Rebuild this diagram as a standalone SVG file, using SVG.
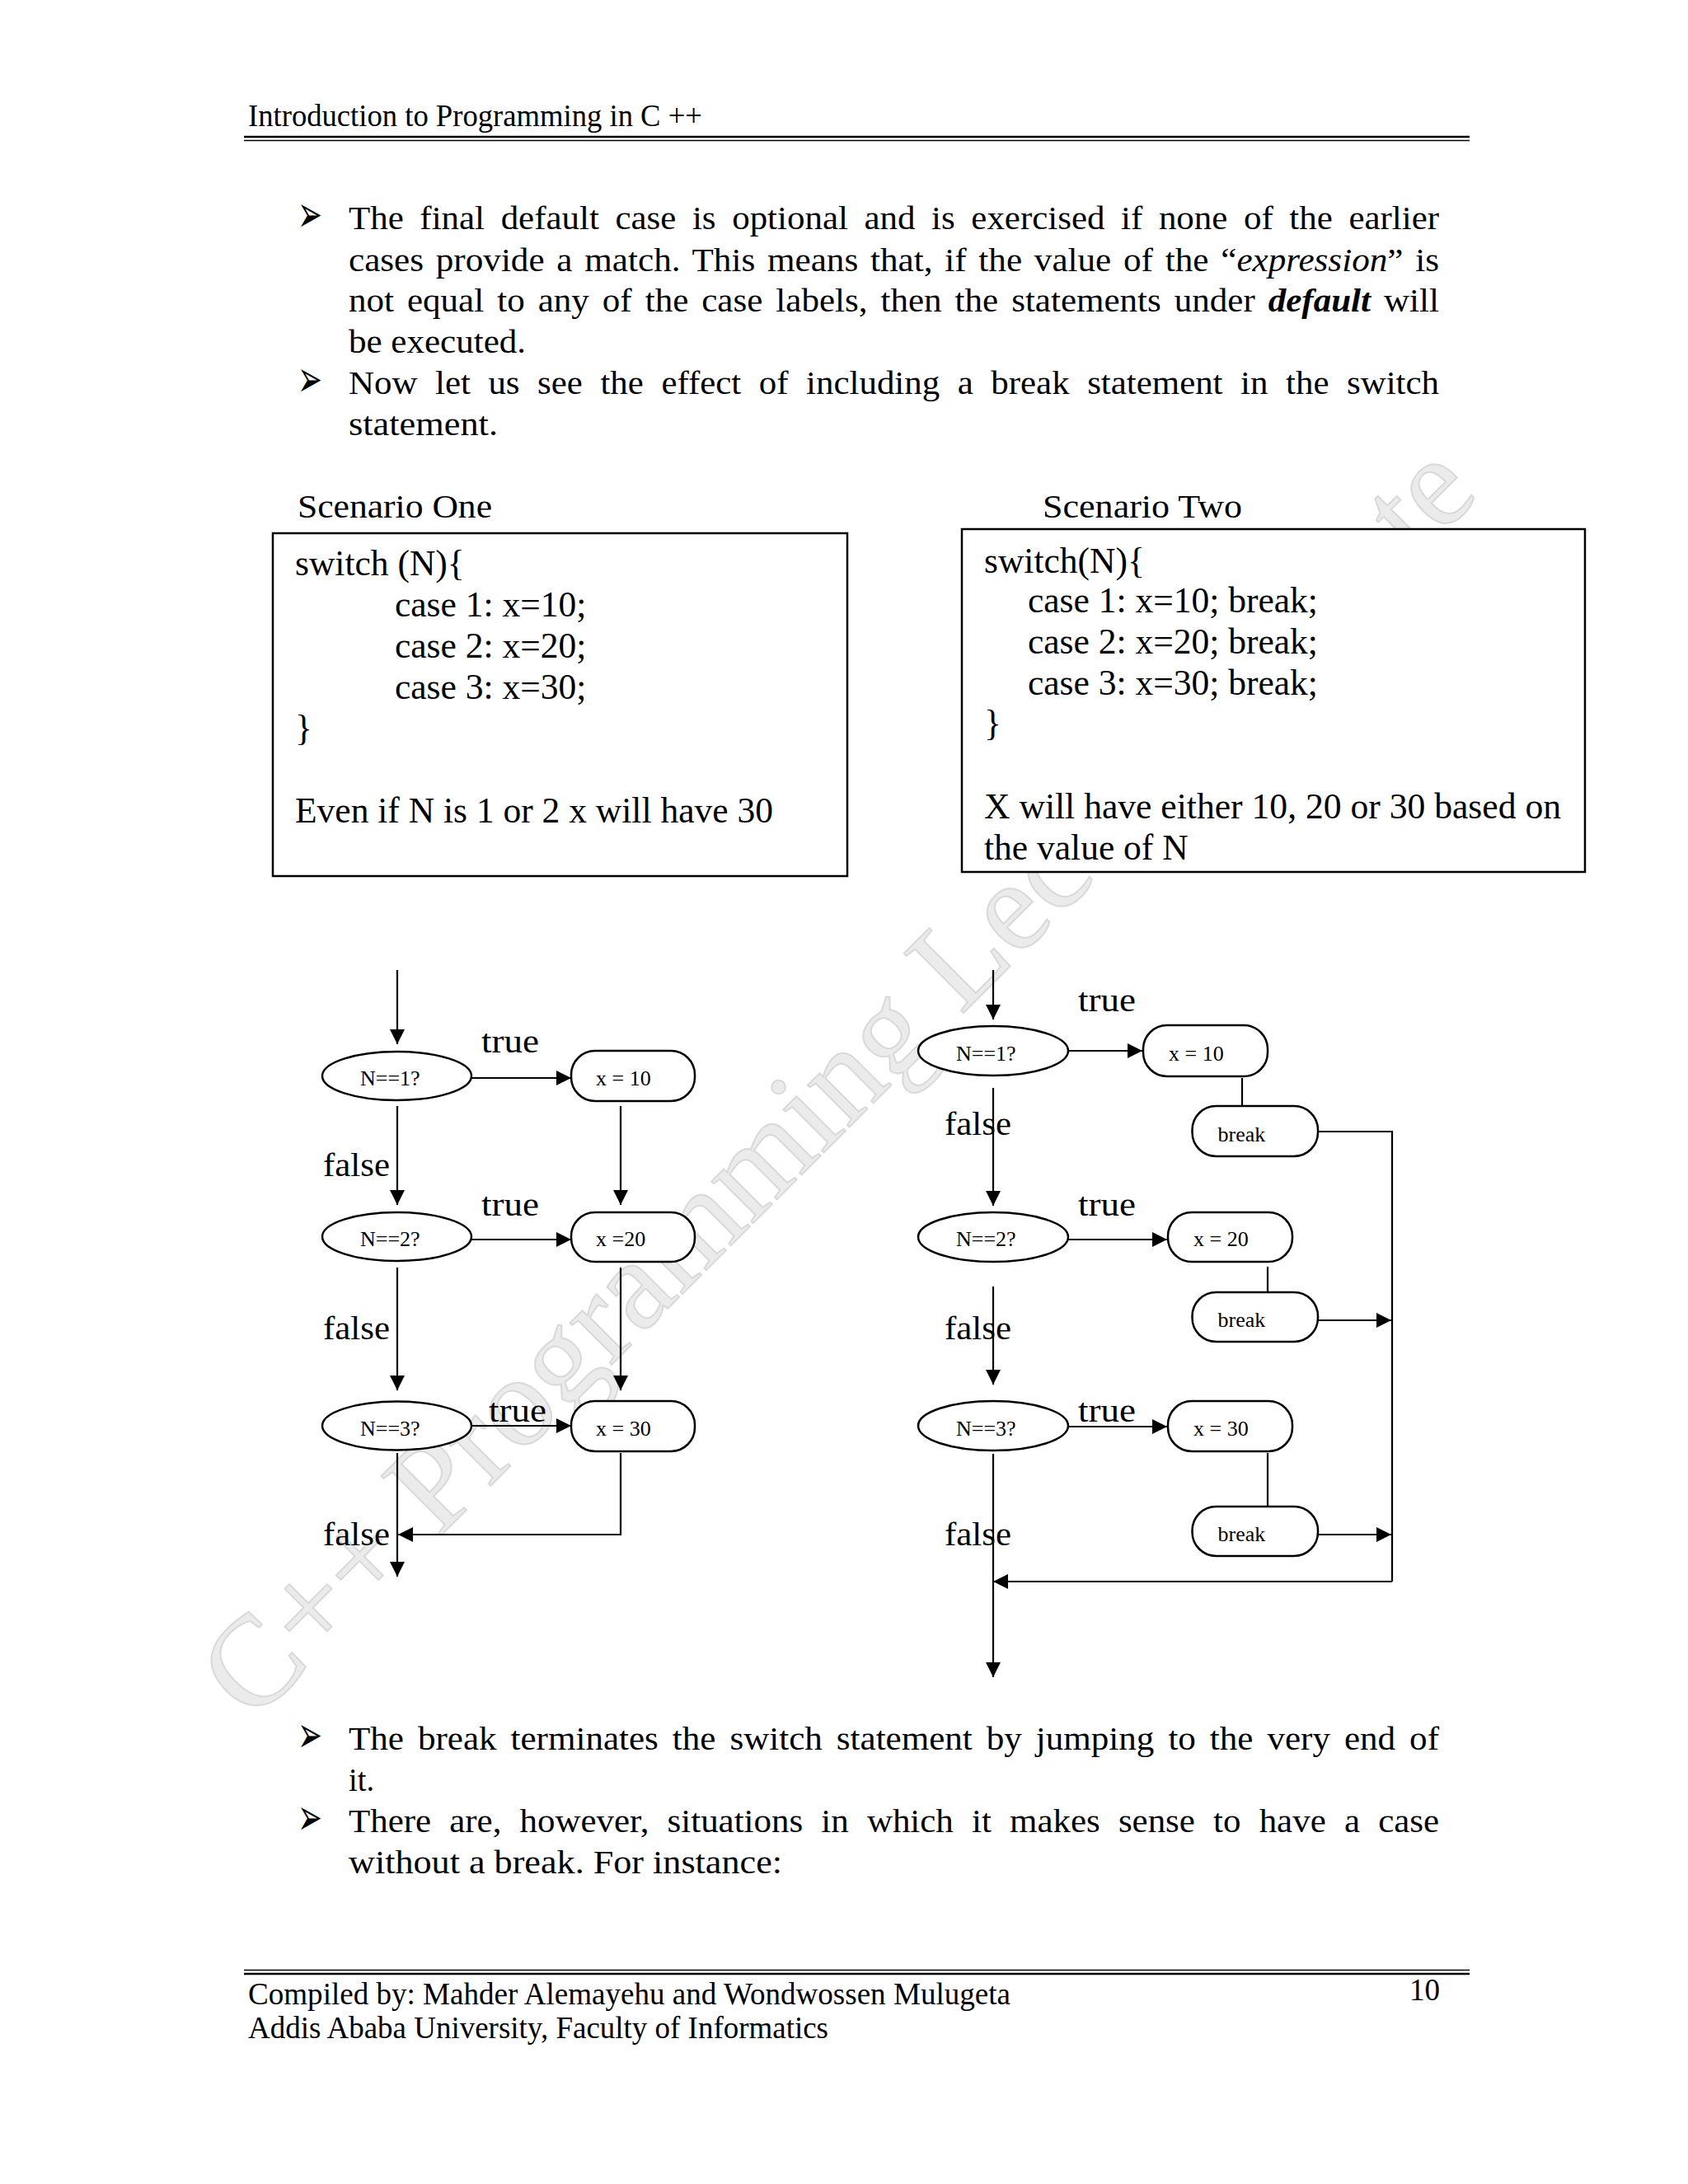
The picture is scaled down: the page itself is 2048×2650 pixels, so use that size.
<svg xmlns="http://www.w3.org/2000/svg" width="2048" height="2650" viewBox="0 0 2048 2650">
<style>
  text { font-family: "Liberation Serif", "Times New Roman", serif; fill: #000; }
  .hdr { font-size: 37px; }
  .body { font-size: 40px; }
  .code { font-size: 43.5px; }
  .node { font-size: 26px; }
  .lbl { font-size: 40px; }
  .bul { font-family: "DejaVu Sans", sans-serif; font-size: 62px; }
  .wm { font-size: 156px; fill: #ebebeb; stroke: #d9d9d9; stroke-width: 2; }
  .shape { fill: #fff; stroke: #000; stroke-width: 2.5; }
  .frame { fill: #fff; stroke: #000; stroke-width: 2.5; }
  .edge { fill: none; stroke: #000; stroke-width: 2.2; }
  .arr { marker-end: url(#ah); }
  .rule { stroke: #000; }
</style>
<defs>
  <marker id="ah" markerWidth="20" markerHeight="20" refX="18" refY="9" orient="auto" markerUnits="userSpaceOnUse">
    <path d="M0,0 L18,9 L0,18 z" fill="#000"/>
  </marker>
</defs>
<rect width="2048" height="2650" fill="#fff"/>

<!-- watermark -->
<g id="watermark">
  <text class="wm" transform="translate(306,2092) rotate(-45)" x="0" y="0">C++ Programming Lecture No<tspan dx="74">te</tspan></text>
</g>

<!-- header -->
<g id="header">
  <text class="hdr" x="301" y="153" textLength="551" lengthAdjust="spacingAndGlyphs">Introduction to Programming in C ++</text>
  <line class="rule" x1="296" y1="166" x2="1783" y2="166" stroke-width="2.7"/>
  <line class="rule" x1="296" y1="170.5" x2="1783" y2="170.5" stroke-width="1.7"/>
</g>

<!-- top paragraphs -->
<g id="para-top">
  <text class="bul" x="361" y="281" textLength="30" lengthAdjust="spacingAndGlyphs">➢</text>
  <text class="body" x="423" y="278" word-spacing="8.3" textLength="1323" lengthAdjust="spacingAndGlyphs">The final default case is optional and is exercised if none of the earlier</text>
  <text class="body" x="423" y="329" word-spacing="3.7" textLength="1323" lengthAdjust="spacingAndGlyphs">cases provide a match. This means that, if the value of the “<tspan font-style="italic">expression</tspan>” is</text>
  <text class="body" x="423" y="378" word-spacing="4.9" textLength="1323" lengthAdjust="spacingAndGlyphs">not equal to any of the case labels, then the statements under <tspan font-style="italic" font-weight="bold">default</tspan> will</text>
  <text class="body" x="423" y="428" textLength="215" lengthAdjust="spacingAndGlyphs">be executed.</text>
  <text class="bul" x="361" y="481" textLength="30" lengthAdjust="spacingAndGlyphs">➢</text>
  <text class="body" x="423" y="478" word-spacing="10.1" textLength="1323" lengthAdjust="spacingAndGlyphs">Now let us see the effect of including a break statement in the switch</text>
  <text class="body" x="423" y="528" textLength="181" lengthAdjust="spacingAndGlyphs">statement.</text>
</g>

<!-- Scenario One -->
<g id="scenario-one">
  <text class="body" x="361" y="628" textLength="236" lengthAdjust="spacingAndGlyphs">Scenario One</text>
  <rect class="frame" x="331" y="647" width="697" height="416"/>
  <text class="code" x="358" y="698">switch (N){</text>
  <text class="code" x="479" y="748">case 1: x=10;</text>
  <text class="code" x="479" y="798">case 2: x=20;</text>
  <text class="code" x="479" y="848">case 3: x=30;</text>
  <text class="code" x="358" y="898">}</text>
  <text class="code" x="358" y="998">Even if N is 1 or 2 x will have 30</text>
</g>

<!-- Scenario Two -->
<g id="scenario-two">
  <text class="body" x="1265" y="628" textLength="242" lengthAdjust="spacingAndGlyphs">Scenario Two</text>
  <rect class="frame" x="1167" y="642" width="756" height="416"/>
  <text class="code" x="1194" y="695">switch(N){</text>
  <text class="code" x="1247" y="743">case 1: x=10; break;</text>
  <text class="code" x="1247" y="793">case 2: x=20; break;</text>
  <text class="code" x="1247" y="843">case 3: x=30; break;</text>
  <text class="code" x="1194" y="892">}</text>
  <text class="code" x="1194" y="993" textLength="700" lengthAdjust="spacingAndGlyphs">X will have either 10, 20 or 30 based on</text>
  <text class="code" x="1194" y="1043">the value of N</text>
</g>

<!-- connectors -->
<g id="connectors">
  <!-- left chart -->
  <line class="edge arr" x1="482" y1="1177" x2="482" y2="1267"/>
  <line class="edge arr" x1="572" y1="1308" x2="693" y2="1308"/>
  <line class="edge arr" x1="482" y1="1342" x2="482" y2="1462"/>
  <line class="edge arr" x1="753" y1="1342" x2="753" y2="1462"/>
  <line class="edge arr" x1="572" y1="1504" x2="693" y2="1504"/>
  <line class="edge arr" x1="482" y1="1538" x2="482" y2="1687"/>
  <line class="edge arr" x1="753" y1="1538" x2="753" y2="1687"/>
  <line class="edge arr" x1="572" y1="1730" x2="693" y2="1730"/>
  <line class="edge arr" x1="482" y1="1763" x2="482" y2="1913"/>
  <polyline class="edge arr" points="753,1763 753,1862 483,1862"/>
  <!-- right chart -->
  <line class="edge arr" x1="1205" y1="1177" x2="1205" y2="1237"/>
  <line class="edge arr" x1="1296" y1="1275" x2="1386" y2="1275"/>
  <line class="edge" x1="1507" y1="1308" x2="1507" y2="1341"/>
  <line class="edge arr" x1="1205" y1="1320" x2="1205" y2="1463"/>
  <line class="edge arr" x1="1296" y1="1504" x2="1416" y2="1504"/>
  <line class="edge" x1="1538" y1="1537" x2="1538" y2="1567"/>
  <line class="edge arr" x1="1599" y1="1602" x2="1688" y2="1602"/>
  <line class="edge arr" x1="1205" y1="1561" x2="1205" y2="1680"/>
  <line class="edge arr" x1="1296" y1="1731" x2="1416" y2="1731"/>
  <line class="edge" x1="1538" y1="1763" x2="1538" y2="1827"/>
  <line class="edge arr" x1="1599" y1="1862" x2="1688" y2="1862"/>
  <polyline class="edge" points="1599,1373 1689,1373 1689,1919"/>
  <line class="edge arr" x1="1689" y1="1919" x2="1205" y2="1919"/>
  <line class="edge arr" x1="1205" y1="1764" x2="1205" y2="2035"/>
</g>

<!-- left chart nodes -->
<g id="L-n1"><ellipse class="shape" cx="481.5" cy="1305.5" rx="90.5" ry="29.5"/><text class="node" x="437" y="1317">N==1?</text></g>
<g id="L-n2"><ellipse class="shape" cx="481.5" cy="1500.5" rx="90.5" ry="29.5"/><text class="node" x="437" y="1512">N==2?</text></g>
<g id="L-n3"><ellipse class="shape" cx="481.5" cy="1730" rx="90.5" ry="29.5"/><text class="node" x="437" y="1742">N==3?</text></g>
<g id="L-x10"><rect class="shape" x="693" y="1275" width="150" height="61" rx="29"/><text class="node" x="723" y="1317">x = 10</text></g>
<g id="L-x20"><rect class="shape" x="693" y="1471" width="150" height="60" rx="29"/><text class="node" x="723" y="1512">x =20</text></g>
<g id="L-x30"><rect class="shape" x="693" y="1700" width="150" height="61" rx="29"/><text class="node" x="723" y="1742">x = 30</text></g>

<!-- left chart labels -->
<g id="L-labels">
  <text class="lbl" x="584" y="1277" textLength="70" lengthAdjust="spacingAndGlyphs">true</text>
  <text class="lbl" x="584" y="1475" textLength="70" lengthAdjust="spacingAndGlyphs">true</text>
  <text class="lbl" x="593" y="1725" textLength="70" lengthAdjust="spacingAndGlyphs">true</text>
  <text class="lbl" x="392" y="1427" textLength="81" lengthAdjust="spacingAndGlyphs">false</text>
  <text class="lbl" x="392" y="1625" textLength="81" lengthAdjust="spacingAndGlyphs">false</text>
  <text class="lbl" x="392" y="1875" textLength="81" lengthAdjust="spacingAndGlyphs">false</text>
</g>

<!-- right chart nodes -->
<g id="R-n1"><ellipse class="shape" cx="1205" cy="1275" rx="91" ry="30"/><text class="node" x="1160" y="1287">N==1?</text></g>
<g id="R-n2"><ellipse class="shape" cx="1205" cy="1501" rx="91" ry="30"/><text class="node" x="1160" y="1512">N==2?</text></g>
<g id="R-n3"><ellipse class="shape" cx="1205" cy="1730" rx="91" ry="30"/><text class="node" x="1160" y="1742">N==3?</text></g>
<g id="R-x10"><rect class="shape" x="1387" y="1244" width="151" height="62" rx="29"/><text class="node" x="1418" y="1287">x = 10</text></g>
<g id="R-x20"><rect class="shape" x="1417" y="1471" width="151" height="60" rx="29"/><text class="node" x="1448" y="1512">x = 20</text></g>
<g id="R-x30"><rect class="shape" x="1417" y="1700" width="151" height="61" rx="29"/><text class="node" x="1448" y="1742">x = 30</text></g>
<g id="R-b1"><rect class="shape" x="1446.5" y="1342" width="152.5" height="61" rx="29"/><text class="node" x="1477.5" y="1385">break</text></g>
<g id="R-b2"><rect class="shape" x="1446.5" y="1568" width="152.5" height="60" rx="29"/><text class="node" x="1477.5" y="1610">break</text></g>
<g id="R-b3"><rect class="shape" x="1446.5" y="1828" width="152.5" height="60" rx="29"/><text class="node" x="1477.5" y="1870">break</text></g>

<!-- right chart labels -->
<g id="R-labels">
  <text class="lbl" x="1308" y="1227" textLength="70" lengthAdjust="spacingAndGlyphs">true</text>
  <text class="lbl" x="1308" y="1475" textLength="70" lengthAdjust="spacingAndGlyphs">true</text>
  <text class="lbl" x="1308" y="1725" textLength="70" lengthAdjust="spacingAndGlyphs">true</text>
  <text class="lbl" x="1146" y="1377" textLength="81" lengthAdjust="spacingAndGlyphs">false</text>
  <text class="lbl" x="1146" y="1625" textLength="81" lengthAdjust="spacingAndGlyphs">false</text>
  <text class="lbl" x="1146" y="1875" textLength="81" lengthAdjust="spacingAndGlyphs">false</text>
</g>

<!-- bottom paragraphs -->
<g id="para-bottom">
  <text class="bul" x="361" y="2126" textLength="30" lengthAdjust="spacingAndGlyphs">➢</text>
  <text class="body" x="423" y="2123" word-spacing="5.8" textLength="1323" lengthAdjust="spacingAndGlyphs">The break terminates the switch statement by jumping to the very end of</text>
  <text class="body" x="423" y="2173" textLength="31" lengthAdjust="spacingAndGlyphs">it.</text>
  <text class="bul" x="361" y="2226" textLength="30" lengthAdjust="spacingAndGlyphs">➢</text>
  <text class="body" x="423" y="2223" word-spacing="10.7" textLength="1323" lengthAdjust="spacingAndGlyphs">There are, however, situations in which it makes sense to have a case</text>
  <text class="body" x="423" y="2273" textLength="526" lengthAdjust="spacingAndGlyphs">without a break. For instance:</text>
</g>

<!-- footer -->
<g id="footer">
  <line class="rule" x1="296" y1="2390.5" x2="1783" y2="2390.5" stroke-width="1.7"/>
  <line class="rule" x1="296" y1="2395" x2="1783" y2="2395" stroke-width="2.5"/>
  <text class="hdr" x="301" y="2432" textLength="925" lengthAdjust="spacingAndGlyphs">Compiled by: Mahder Alemayehu and Wondwossen Mulugeta</text>
  <text class="hdr" x="301" y="2473" textLength="704" lengthAdjust="spacingAndGlyphs">Addis Ababa University, Faculty of Informatics</text>
  <text class="hdr" x="1710" y="2427">10</text>
</g>
</svg>
